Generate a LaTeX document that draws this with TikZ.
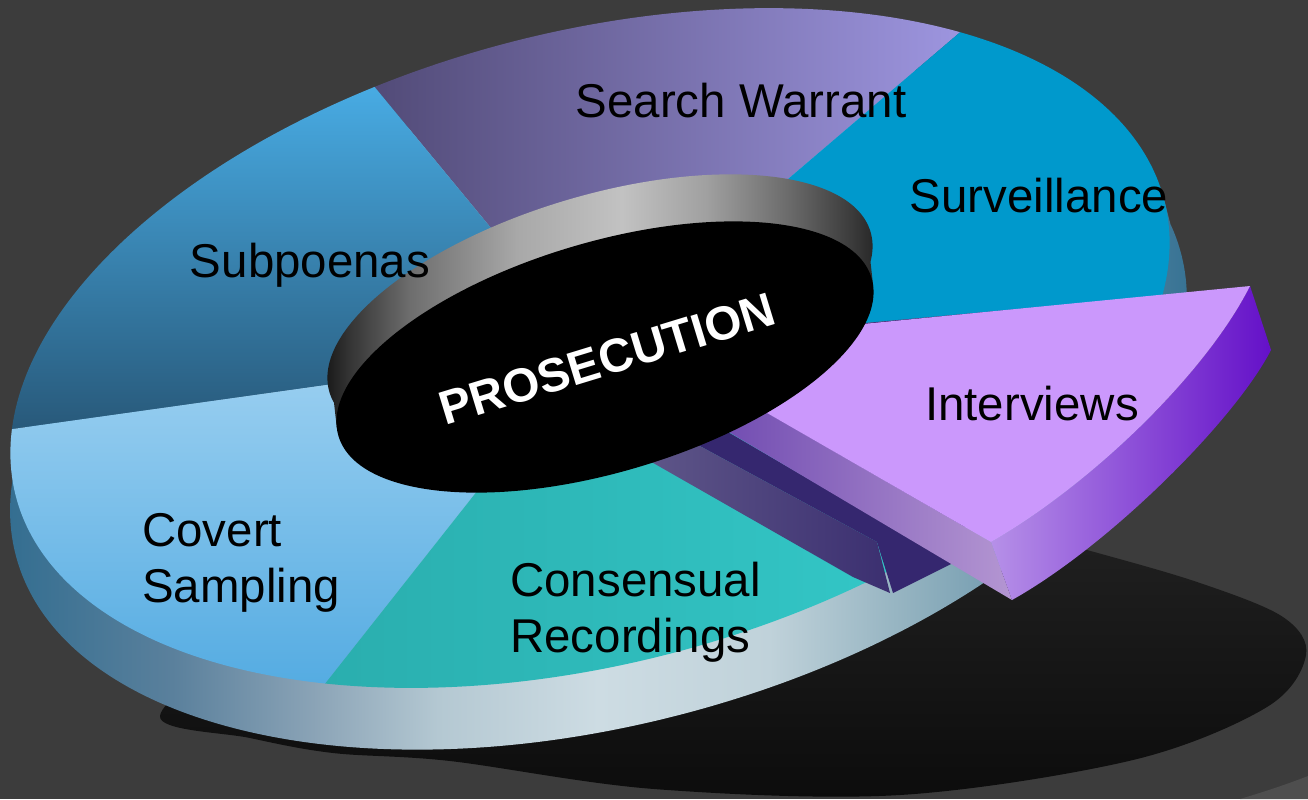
\documentclass[tikz,border=0pt]{standalone}
\usepackage{fontspec}
\setmainfont{Liberation Sans}
\usepackage{tikz}

\definecolor{bgC}{HTML}{3C3C3C}
\definecolor{bgL}{HTML}{4E4E4E}
\definecolor{shdA}{HTML}{232323}
\definecolor{shdB}{HTML}{0C0C0C}
\definecolor{sideA}{HTML}{2B6A8E}
\definecolor{sideB}{HTML}{5A809C}
\definecolor{sideC}{HTML}{8AA3B6}
\definecolor{sideD}{HTML}{B4C8D2}
\definecolor{sideE}{HTML}{CDDCE3}
\definecolor{sideF}{HTML}{C0D2DA}
\definecolor{sideG}{HTML}{90B0BE}
\definecolor{hubA}{HTML}{080808}
\definecolor{hubB}{HTML}{333333}
\definecolor{hubC}{HTML}{6E6E6E}
\definecolor{hubD}{HTML}{A8A8A8}
\definecolor{hubE}{HTML}{C2C2C2}
\definecolor{hubF}{HTML}{A0A0A0}
\definecolor{hubG}{HTML}{6A6A6A}
\definecolor{hubH}{HTML}{3A3A3A}
\definecolor{hubI}{HTML}{1A1A1A}
\definecolor{swA}{HTML}{524B78}
\definecolor{swB}{HTML}{9D95DF}
\definecolor{svC}{HTML}{0099CC}
\definecolor{spA}{HTML}{48ABE3}
\definecolor{spB}{HTML}{28597A}
\definecolor{csA}{HTML}{9ED1F1}
\definecolor{csB}{HTML}{55ACE2}
\definecolor{crA}{HTML}{2AAEAE}
\definecolor{crB}{HTML}{34C9C9}
\definecolor{ivC}{HTML}{CB98FC}
\definecolor{ivD}{HTML}{35276F}
\definecolor{stA}{HTML}{625A8B}
\definecolor{stB}{HTML}{3B2F70}
\definecolor{cutA}{HTML}{6A44AE}
\definecolor{cutB}{HTML}{B496D2}
\definecolor{rimA}{HTML}{B690E8}
\definecolor{rimM}{HTML}{A07AE3}
\definecolor{rimB}{HTML}{6410C8}

\pgfdeclarehorizontalshading{pieside}{100bp}{color(0bp)=(sideA); color(25bp)=(sideA);
  color(33bp)=(sideB); color(38.6bp)=(sideC); color(43.6bp)=(sideD); color(50bp)=(sideE);
  color(56.8bp)=(sideF); color(62.7bp)=(sideG); color(75bp)=(sideA); color(100bp)=(sideA)}
\pgfdeclarehorizontalshading{hubside}{100bp}{color(0bp)=(hubA); color(25bp)=(hubA);
  color(28.2bp)=(hubB); color(33.6bp)=(hubC); color(42.8bp)=(hubD); color(51.9bp)=(hubE);
  color(59.2bp)=(hubF); color(66.4bp)=(hubG); color(71.9bp)=(hubH); color(75bp)=(hubI);
  color(100bp)=(hubI)}

\begin{document}
\begin{tikzpicture}[x=0.02cm, y=-0.02cm,
        ellframe/.style n args={5}{shift={(#1,#2)},
            x={({#3*cos(#5)*0.02cm},{#3*sin(#5)*0.02cm})},
            y={({-#4*sin(#5)*0.02cm},{#4*cos(#5)*0.02cm})}},
        slicetext/.style={font=\fontsize{27}{32}\selectfont, inner sep=0pt, text=black}
        ]

        %Hintergrund
        \useasboundingbox (0,0) rectangle (1308,799);
        \fill[bgC] (0,0) rectangle (1308,799);
        \fill[bgL] (1240,799) .. controls (1270,790) and (1290,783) .. (1308,776) -- (1308,799) -- cycle;

        %Schatten
        \shade[top color=shdA, bottom color=shdB] plot[smooth cycle, tension=0.55] coordinates
            {(160,716) (250,738) (333,753) (450,761) (654,789) (900,795) (1133,760) (1267,707)
             (1306,655) (1283,617) (1200,583) (1087,550) (900,500) (500,520) (260,640)};

        %Torte
        \begin{scope}[ellframe={590}{348}{593}{316}{14.45}]
            \shade[shading=pieside] (-0.01,-0.18) circle[radius=1.015]
                (180:1) -- ++(0,-0.18) -- ++(2,0) -- (0:1) -- cycle;
            \shade[left color=swA, right color=swB] (0,0) -- (42.5:1) arc[start angle=42.5, end angle=104, radius=1] -- cycle;
            \fill[svC] (0,0) -- (-17:1) arc[start angle=-17, end angle=42.5, radius=1] -- cycle;
            \shade[top color=spA, bottom color=spB] (0,0) -- (104:1) arc[start angle=104, end angle=168, radius=1] -- cycle;
            \shade[top color=csA, bottom color=csB] (0,0) -- (168:1) arc[start angle=168, end angle=235, radius=1] -- cycle;
            \shade[left color=crA, right color=crB] (0,0) -- (235:1) arc[start angle=235, end angle=301, radius=1] -- cycle;
            \fill[ivD] (0,0) -- (301:1) arc[start angle=301, end angle=343, radius=1] -- cycle;
        \end{scope}

        %Schnittflaeche
        \fill[ivD] (690,410) -- (953,563) -- (893,593) -- (877,542) -- (650,419) -- cycle;
        \shade[left color=stA, right color=stB] (620,444) -- (853,577) -- (890,593) -- (877,542) -- (650,419) -- cycle;

        %Interviews (herausgezogen)
        \shade[left color=cutA, right color=cutB] (700,374) -- (991,542) -- (1012,600) -- (690,409) -- cycle;
        \shade[left color=rimA, middle color=rimM, right color=rimB] (991,542) -- (1012,600)
            .. controls (1110,545) and (1235,420) .. (1271,350) -- (1250,286)
            .. controls (1205,375) and (1090,485) .. (991,542) -- cycle;
        \fill[ivC] (649,345) -- (1250,286) .. controls (1205,375) and (1090,485) .. (991,542) -- cycle;

        %Nabe
        \begin{scope}[ellframe={605}{357}{278}{115}{16.5}]
            \shade[shading=hubside] (0.0287,0.3876) circle[radius=1.015]
                (175.8:1) -- (-4.2:1) -- ++(0.0287,0.3876) -- ++(-1.9946,0.1464) -- cycle;
            \fill[black] (0,0) circle[radius=1];
        \end{scope}
        \node[font=\bfseries\fontsize{27}{32}\selectfont, text=white, rotate=17, inner sep=0pt] (pr) at (607,359) {PROSECUTION};

        %Beschriftung
        \node[slicetext, anchor=base] (sw) at (741,117) {Search Warrant};
        \node[slicetext, anchor=base] (sv) at (1039,212) {Surveillance};
        \node[slicetext, anchor=base] (sp) at (310,277) {Subpoenas};
        \node[slicetext, anchor=base] (iv) at (1032,420) {Interviews};
        \node[slicetext, anchor=north west, align=left] (cs) at (142,513) {Covert\\Sampling};
        \node[slicetext, anchor=north west, align=left] (cr) at (510,562) {Consensual\\Recordings};

\end{tikzpicture}
\end{document}
